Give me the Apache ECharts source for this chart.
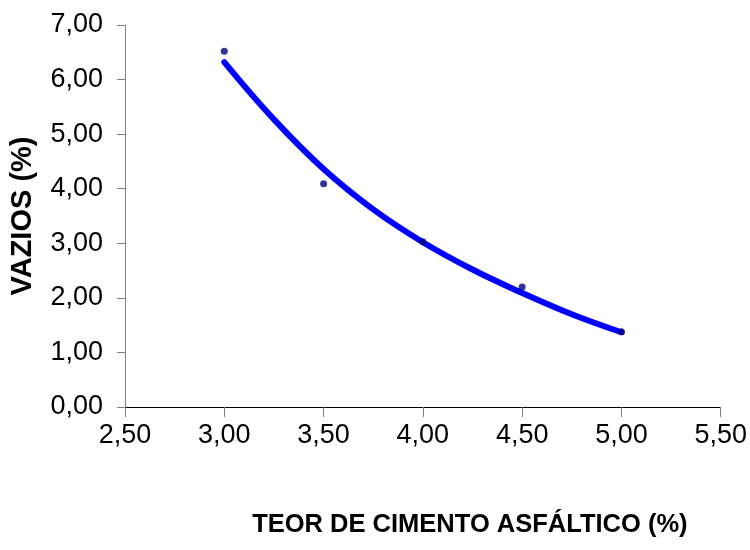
<!DOCTYPE html>
<html>
<head>
<meta charset="utf-8">
<script src="https://cdn.jsdelivr.net/npm/echarts@6/dist/echarts.min.js"></script>
<style>
  html, body { margin: 0; padding: 0; background: #ffffff; }
  #chart { width: 750px; height: 550px; }
</style>
</head>
<body>
<div id="chart"></div>
<script>
// Measured voids (%) for each asphalt cement content (%)
const teorCA = [3.0, 3.5, 4.0, 4.5, 5.0];
const vazios = [6.52, 4.09, 3.03, 2.20, 1.38];

// Trend curve
const tendenciaX = [3.0, 3.25, 3.5, 3.75, 4.0, 4.25, 4.5, 4.75, 5.0];
const tendenciaY = [6.32, 5.27, 4.36, 3.62, 3.02, 2.52, 2.09, 1.70, 1.37];

// Axis tick values
const xTicks = [2.5, 3.0, 3.5, 4.0, 4.5, 5.0, 5.5];
const yTicks = [0, 1, 2, 3, 4, 5, 6, 7];

const fmt = v => v.toFixed(2).replace('.', ',');
const tickFont = { fontFamily: 'Liberation Sans, Arial, sans-serif', fontSize: 27, color: '#000' };

const chart = echarts.init(document.getElementById('chart'), null, { renderer: 'canvas' });

chart.setOption({
  animation: false,
  backgroundColor: '#ffffff',
  grid: { left: 124, right: 26, top: 25, bottom: 143, containLabel: false },
  xAxis: {
    type: 'value',
    min: xTicks[0],
    max: xTicks[xTicks.length - 1],
    interval: 0.5,
    name: 'TEOR DE CIMENTO ASFÁLTICO (%)',
    nameLocation: 'middle',
    nameGap: 105,
    nameTextStyle: {
      fontFamily: 'Liberation Sans, Arial, sans-serif',
      fontWeight: 'bold',
      fontSize: 25.5,
      color: '#000',
      padding: [0, 0, 0, 94]
    },
    axisLine: { show: true, onZero: false, lineStyle: { color: '#000', width: 1 } },
    axisTick: { show: true, inside: false, length: 10, lineStyle: { color: '#808080' } },
    axisLabel: Object.assign({ margin: 15, formatter: fmt }, tickFont),
    splitLine: { show: false }
  },
  yAxis: {
    type: 'value',
    min: yTicks[0],
    max: yTicks[yTicks.length - 1],
    interval: 1,
    name: 'VAZIOS (%)',
    nameLocation: 'middle',
    nameRotate: 90,
    nameGap: 88,
    nameTextStyle: {
      fontFamily: 'Liberation Sans, Arial, sans-serif',
      fontWeight: 'bold',
      fontSize: 29,
      color: '#000'
    },
    axisLine: { show: true, onZero: false, lineStyle: { color: '#808080', width: 1 } },
    axisTick: { show: true, inside: false, length: 8, lineStyle: { color: '#808080' } },
    axisLabel: Object.assign({ margin: 22, formatter: fmt }, tickFont),
    splitLine: { show: false }
  },
  series: [
    {
      name: 'Tendência',
      type: 'line',
      data: tendenciaX.map((x, i) => [x, tendenciaY[i]]),
      smooth: 0.4,
      showSymbol: false,
      lineStyle: { color: '#0000ff', width: 6, cap: 'round', join: 'round' },
      z: 2
    },
    {
      name: 'Vazios',
      type: 'scatter',
      data: teorCA.map((x, i) => [x, vazios[i]]),
      symbol: 'circle',
      symbolSize: 7,
      itemStyle: { color: '#000080' },
      z: 3
    }
  ]
});
</script>
</body>
</html>
